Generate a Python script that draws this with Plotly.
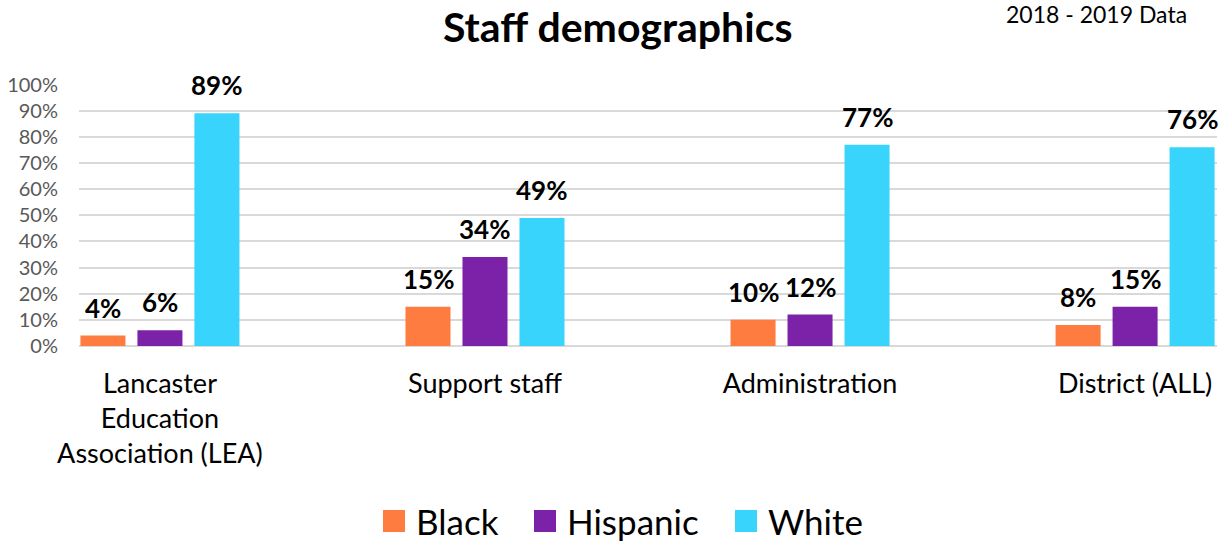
import plotly.graph_objects as go

categories = ["Lancaster<br>Education<br>Association (LEA)", "Support staff", "Administration", "District (ALL)"]
series_names = ["Black", "Hispanic", "White"]
black = [4, 15, 10, 8]
hispanic = [6, 34, 12, 15]
white = [89, 49, 77, 76]
colors = ["#FF7C40", "#7B22A8", "#38D4FC"]
y_ticks = [i / 10 for i in range(11)]

FONT = "Lato"
series = [black, hispanic, white]
xpos = list(range(len(categories)))
bargap = 0.474
bargroupgap = 0.21
slot = (1 - bargap) / len(series)

W, H = 1224, 541
l, r, t, b = 79, 7, 84, 195
pw, ph = W - l - r, H - t - b


def px(x):
    return (x - l) / pw


def py(y):
    return (H - b - y) / ph


fig = go.Figure()
annotations = []
for k, (name, vals, col) in enumerate(zip(series_names, series, colors)):
    fig.add_trace(go.Bar(
        x=xpos, y=[v / 100 for v in vals], name=name,
        marker=dict(color=col, line=dict(width=0)),
        showlegend=False, hoverinfo="skip",
    ))
    off = (k - (len(series) - 1) / 2) * slot
    for i, v in enumerate(vals):
        annotations.append(dict(
            x=i + off, y=v / 100, xref="x", yref="y",
            text=f"<b>{v}%</b>", showarrow=False,
            yanchor="middle", yshift=28,
            font=dict(family=FONT, size=26, color="#000000"),
        ))

annotations.append(dict(x=px(617), y=py(27), xref="paper", yref="paper", text="<b>Staff demographics</b>",
                        showarrow=False, xanchor="center", yanchor="middle",
                        font=dict(family=FONT, size=41, color="#000000")))
annotations.append(dict(x=px(1096), y=py(14), xref="paper", yref="paper", text="2018 - 2019 Data",
                        showarrow=False, xanchor="center", yanchor="middle",
                        font=dict(family=FONT, size=23, color="#000000")))

legend_sq = [383, 534, 735]
shapes = []
for name, col, x0 in zip(series_names, colors, legend_sq):
    shapes.append(dict(type="rect", xref="paper", yref="paper",
                       x0=px(x0), x1=px(x0 + 22), y0=py(532), y1=py(510),
                       line=dict(width=0), fillcolor=col))
    annotations.append(dict(x=px(x0 + 31), y=py(521), xref="paper", yref="paper", text=name,
                            showarrow=False, xanchor="left", yanchor="middle",
                            font=dict(family=FONT, size=35, color="#000000")))

fig.update_layout(
    width=W, height=H,
    margin=dict(l=l, r=r, t=t, b=b),
    paper_bgcolor="white", plot_bgcolor="white",
    barmode="group", bargap=bargap, bargroupgap=bargroupgap,
    showlegend=False,
    xaxis=dict(range=[-0.249, 3.252], tickvals=xpos, ticktext=categories,
               showgrid=False, zeroline=False, showline=False,
               ticks="", ticklabelstandoff=19,
               tickfont=dict(family=FONT, size=27, color="#000000")),
    yaxis=dict(range=[0, 1.002], tickvals=y_ticks, tickformat=".0%",
               showgrid=True, gridcolor="#D9D9D9", gridwidth=2,
               zeroline=True, zerolinecolor="#D9D9D9", zerolinewidth=2,
               showline=False, ticks="", ticklabelstandoff=20,
               tickfont=dict(family=FONT, size=20, color="#595959")),
    annotations=annotations, shapes=shapes,
)

fig.write_html("out.html")
